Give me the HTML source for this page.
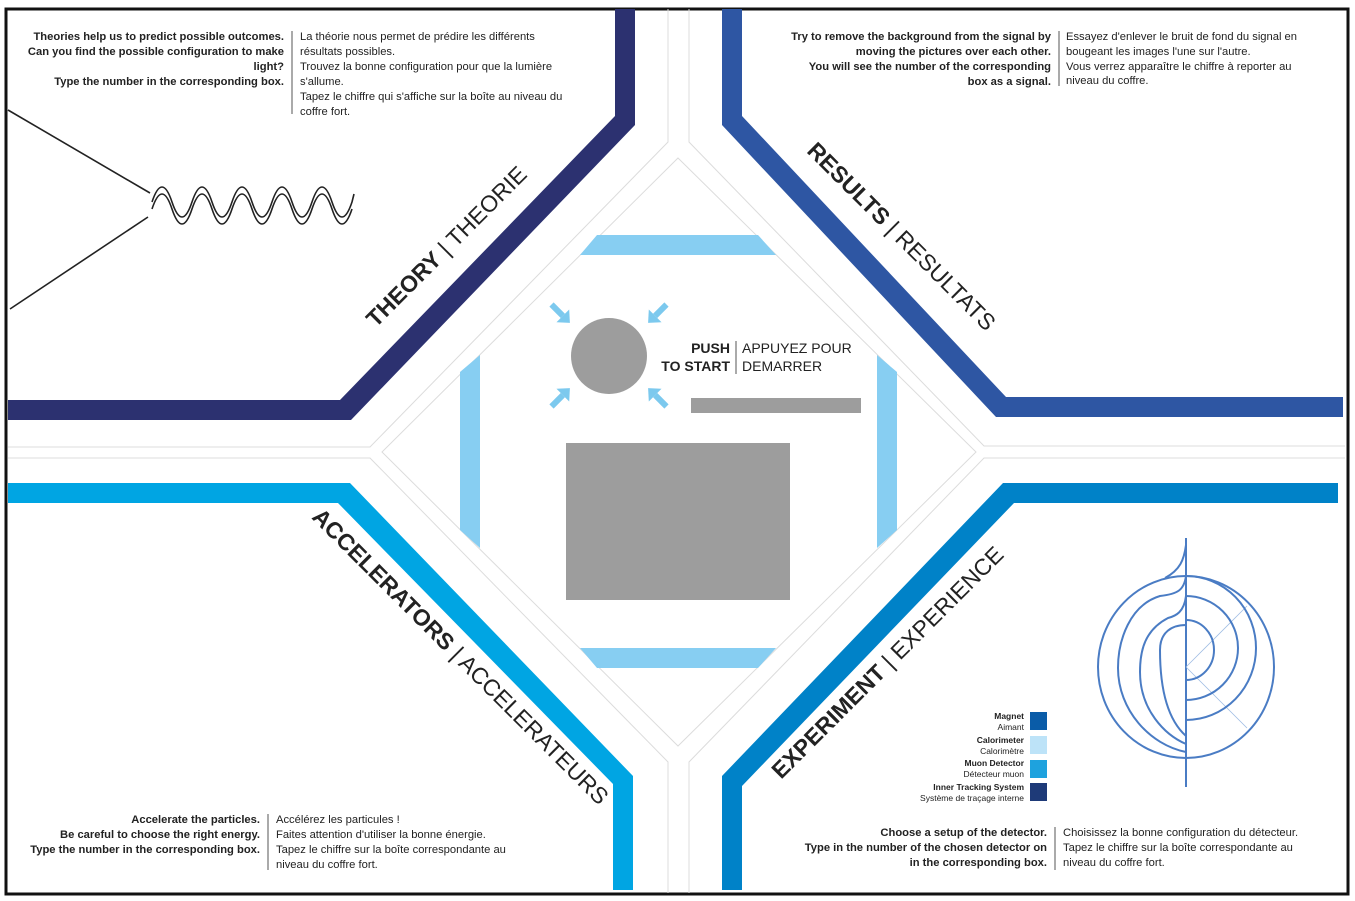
<!DOCTYPE html>
<html><head><meta charset="utf-8"><style>
html,body{margin:0;padding:0;background:#fff;}
svg{display:block;}
text{font-family:"Liberation Sans Narrow","Liberation Sans",sans-serif;fill:#222;}
.b{font-weight:bold;}
.lbl{font-family:"Liberation Sans",sans-serif;font-size:23px;}
</style></head><body>
<svg width="1355" height="901" viewBox="0 0 1355 901">
<rect x="6" y="9" width="1342" height="885" fill="#fff" stroke="#111" stroke-width="3"/>
<!-- thin corridor lines -->
<g fill="none" stroke="#dcdcdc" stroke-width="1">
<polyline points="668,9 668,142 370,447 8,447"/>
<polyline points="689,9 689,142 984,446 1345,446"/>
<polyline points="668,893 668,762 370,458 8,458"/>
<polyline points="689,893 689,762 984,458 1345,458"/>
<polygon points="678,158 976,452 678,746 382,452"/>
</g>
<!-- colored bands -->
<polygon fill="#2c3170" points="615,9 635,9 635,125 351,420 8,420 8,400 340,400 615,116"/>
<polygon fill="#2e56a3" points="722,9 742,9 742,116 1006,397 1343,397 1343,417 996,417 722,125"/>
<polygon fill="#00a5e3" points="8,483 350,483 633,776 633,890 613,890 613,784 338,503 8,503"/>
<polygon fill="#0082c8" points="1338,483 1338,503 1014,503 742,786 742,890 722,890 722,776 1003,483"/>
<!-- center light blue bars -->
<g fill="#87cef2">
<polygon points="597,235 758,235 776,255 580,255"/>
<polygon points="580,648 776,648 758,668 597,668"/>
<polygon points="460,372 480,355 480,548 460,530"/>
<polygon points="877,355 897,372 897,530 877,548"/>
</g>
<!-- arrows -->
<g fill="#7cc9ee">
<g transform="translate(560,313) rotate(45)"><rect x="-12" y="-3" width="16" height="6"/><polygon points="4,-9 14,0 4,9"/></g>
<g transform="translate(658,313) rotate(135)"><rect x="-12" y="-3" width="16" height="6"/><polygon points="4,-9 14,0 4,9"/></g>
<g transform="translate(560,398) rotate(-45)"><rect x="-12" y="-3" width="16" height="6"/><polygon points="4,-9 14,0 4,9"/></g>
<g transform="translate(658,398) rotate(-135)"><rect x="-12" y="-3" width="16" height="6"/><polygon points="4,-9 14,0 4,9"/></g>
</g>
<circle cx="609" cy="356" r="38" fill="#9d9d9d"/>
<rect x="691" y="398" width="170" height="15" fill="#9d9d9d"/>
<rect x="566" y="443" width="224" height="157" fill="#9d9d9d"/>
<text x="730" y="353" text-anchor="end" font-size="14" class="b">PUSH</text>
<text x="730" y="371" text-anchor="end" font-size="14" class="b">TO START</text>
<line x1="736" y1="341" x2="736" y2="374" stroke="#555"/>
<text x="742" y="353" font-size="14">APPUYEZ POUR</text>
<text x="742" y="371" font-size="14">DEMARRER</text>

<!-- theory text -->
<g font-size="11.2">
<text x="284" y="40" text-anchor="end" class="b">Theories help us to predict possible outcomes.</text>
<text x="284" y="55" text-anchor="end" class="b">Can you find the possible configuration to make</text>
<text x="284" y="70" text-anchor="end" class="b">light?</text>
<text x="284" y="85" text-anchor="end" class="b">Type the number in the corresponding box.</text>
<line x1="292" y1="31" x2="292" y2="114" stroke="#555"/>
<text x="300" y="40">La théorie nous permet de prédire les différents</text>
<text x="300" y="55">résultats possibles.</text>
<text x="300" y="70">Trouvez la bonne configuration pour que la lumière</text>
<text x="300" y="85">s'allume.</text>
<text x="300" y="100">Tapez le chiffre qui s'affiche sur la boîte au niveau du</text>
<text x="300" y="115">coffre fort.</text>
</g>
<!-- feynman -->
<g fill="none" stroke="#222" stroke-width="1.6">
<line x1="8" y1="110" x2="150" y2="193"/>
<line x1="10" y1="309" x2="148" y2="217"/>
<path d="M152,202 q10,-30 20,0 t20,0 t20,0 t20,0 t20,0 t20,0 t20,0 t20,0 t20,0 t20,0 l2,-8"/>
<path d="M152,209 q10,-30 20,0 t20,0 t20,0 t20,0 t20,0 t20,0 t20,0 t20,0 t20,0 t20,0"/>
</g>
<text class="lbl" transform="translate(452,252) rotate(-45)" text-anchor="middle"><tspan font-weight="bold">THEORY</tspan> | THEORIE</text>

<!-- results text -->
<g font-size="11.2">
<text x="1051" y="40" text-anchor="end" class="b">Try to remove the background from the signal by</text>
<text x="1051" y="55" text-anchor="end" class="b">moving the pictures over each other.</text>
<text x="1051" y="70" text-anchor="end" class="b">You will see the number of the corresponding</text>
<text x="1051" y="85" text-anchor="end" class="b">box as a signal.</text>
<line x1="1059" y1="31" x2="1059" y2="86" stroke="#555"/>
<text x="1066" y="40">Essayez d'enlever le bruit de fond du signal en</text>
<text x="1066" y="55">bougeant les images l'une sur l'autre.</text>
<text x="1066" y="70">Vous verrez apparaître le chiffre à reporter au</text>
<text x="1066" y="84">niveau du coffre.</text>
</g>
<text class="lbl" transform="translate(896,242) rotate(45)" text-anchor="middle"><tspan font-weight="bold">RESULTS</tspan> | RESULTATS</text>

<!-- accelerators -->
<text class="lbl" transform="translate(455,662) rotate(45)" text-anchor="middle"><tspan font-weight="bold">ACCELERATORS</tspan> | ACCELERATEURS</text>
<g font-size="11.2">
<text x="260" y="823" text-anchor="end" class="b">Accelerate the particles.</text>
<text x="260" y="838" text-anchor="end" class="b">Be careful to choose the right energy.</text>
<text x="260" y="853" text-anchor="end" class="b">Type the number in the corresponding box.</text>
<line x1="268" y1="814" x2="268" y2="870" stroke="#555"/>
<text x="276" y="823">Accélérez les particules !</text>
<text x="276" y="838">Faites attention d'utiliser la bonne énergie.</text>
<text x="276" y="853">Tapez le chiffre sur la boîte correspondante au</text>
<text x="276" y="868">niveau du coffre fort.</text>
</g>

<!-- experiment -->
<text class="lbl" transform="translate(893,668) rotate(-45)" text-anchor="middle"><tspan font-weight="bold">EXPERIMENT</tspan> | EXPERIENCE</text>
<g font-size="11.2">
<text x="1047" y="836" text-anchor="end" class="b">Choose a setup of the detector.</text>
<text x="1047" y="851" text-anchor="end" class="b">Type in the number of the chosen detector on</text>
<text x="1047" y="866" text-anchor="end" class="b">in the corresponding box.</text>
<line x1="1055" y1="827" x2="1055" y2="870" stroke="#555"/>
<text x="1063" y="836">Choisissez la bonne configuration du détecteur.</text>
<text x="1063" y="851">Tapez le chiffre sur la boîte correspondante au</text>
<text x="1063" y="866">niveau du coffre fort.</text>
</g>
<g font-size="8.5">
<rect x="1030" y="712" width="17" height="18" fill="#0a5ca8"/>
<text x="1024" y="719" text-anchor="end" class="b">Magnet</text><text x="1024" y="730" text-anchor="end" fill="#555">Aimant</text>
<rect x="1030" y="736" width="17" height="18" fill="#bde3f8"/>
<text x="1024" y="743" text-anchor="end" class="b">Calorimeter</text><text x="1024" y="754" text-anchor="end" fill="#555">Calorimètre</text>
<rect x="1030" y="760" width="17" height="18" fill="#1ea2de"/>
<text x="1024" y="766" text-anchor="end" class="b">Muon Detector</text><text x="1024" y="777" text-anchor="end" fill="#555">Détecteur muon</text>
<rect x="1030" y="783" width="17" height="18" fill="#1e3a78"/>
<text x="1024" y="790" text-anchor="end" class="b">Inner Tracking System</text><text x="1024" y="801" text-anchor="end" fill="#555">Système de traçage interne</text>
</g>
<g fill="none" stroke="#4a7cc4" stroke-width="2">
<line x1="1186" y1="538" x2="1186" y2="787"/>
<line x1="1186" y1="667" x2="1247" y2="606" stroke-width="0.8" stroke="#9dbbe3"/>
<line x1="1186" y1="667" x2="1247" y2="728" stroke-width="0.8" stroke="#9dbbe3"/>
<ellipse cx="1186" cy="667" rx="88" ry="91"/>
<path d="M1186,576 A70,72 0 0 1 1186,720"/>
<path d="M1186,596 A52,52 0 0 1 1186,700"/>
<path d="M1186,620 A28,30 0 0 1 1186,680"/>
<path d="M1186,545 C1184,560 1180,570 1165,578"/>
<path d="M1186,576 C1184,590 1178,594 1160,596 C1130,605 1118,640 1118,668 C1118,710 1150,745 1186,752"/>
<path d="M1186,596 C1184,612 1176,616 1168,618 C1145,630 1140,650 1140,672 C1140,710 1165,735 1186,744"/>
<path d="M1186,625 C1172,625 1160,632 1160,650 C1160,690 1168,720 1186,736"/>
</g>
</svg>
</body></html>
